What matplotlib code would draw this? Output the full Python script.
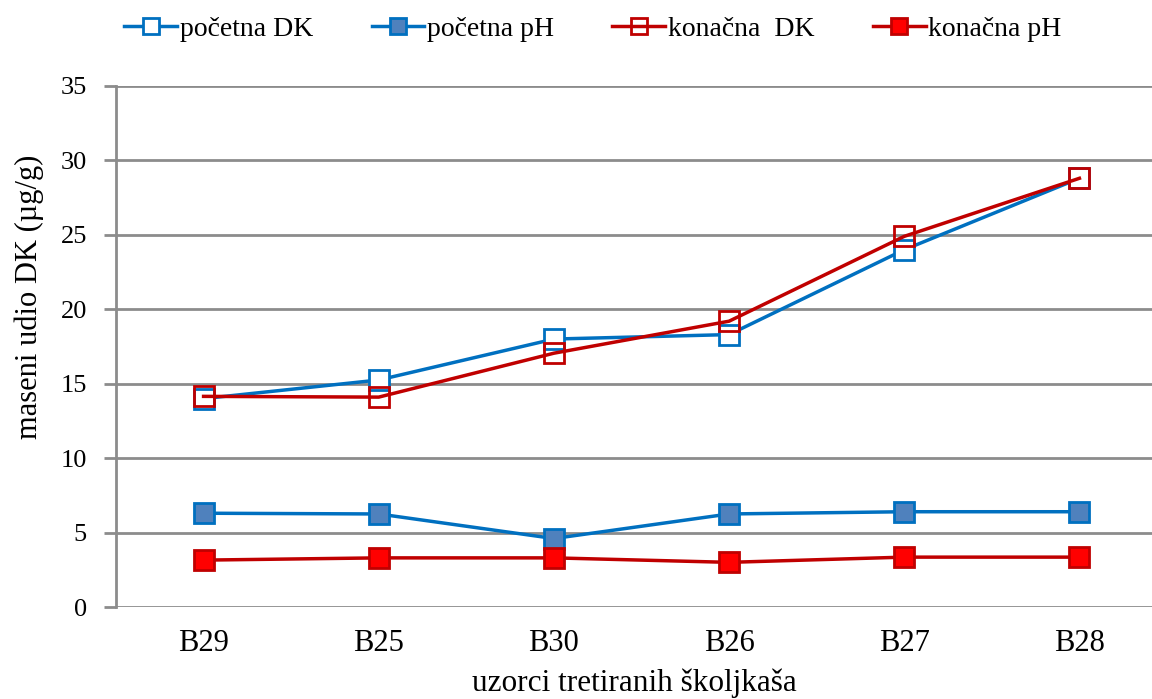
import matplotlib
matplotlib.use("Agg")
import matplotlib.pyplot as plt

# Data
samples = ["B29", "B25", "B30", "B26", "B27", "B28"]
pocetna_dk = [14.0, 15.25, 18.0, 18.3, 24.0, 28.8]
pocetna_ph = [6.3, 6.25, 4.6, 6.25, 6.4, 6.4]
konacna_dk = [14.15, 14.1, 17.05, 19.2, 24.9, 28.8]
konacna_ph = [3.15, 3.3, 3.3, 3.0, 3.35, 3.35]
y_ticks = [0, 5, 10, 15, 20, 25, 30, 35]

BLUE = "#0070C0"
BLUE_FILL = "#4F81BD"
RED = "#C00000"
RED_FILL = "#FF0000"
GRID = "#8c8c8c"

plt.rcParams["font.family"] = ["Liberation Serif", "DejaVu Serif"]

fig = plt.figure(figsize=(11.52, 6.99), dpi=100)
ax = fig.add_axes([116 / 1152, 1 - 607 / 699, 1051 / 1152, (607 - 86) / 699])

x = list(range(len(samples)))
ms, lw = 14, 2.5
ax.plot(x, pocetna_dk, color=BLUE, lw=lw, marker="s", ms=ms, mfc="white",
        mec=BLUE, mew=2, label="početna DK", zorder=3)
ax.plot(x, pocetna_ph, color=BLUE, lw=lw, marker="s", ms=ms, mfc=BLUE_FILL,
        mec=BLUE, mew=2, label="početna pH", zorder=3)
ax.plot(x, konacna_dk, color=RED, lw=lw, marker="s", ms=ms, mfc="none",
        mec=RED, mew=2, label="konačna  DK", zorder=4)
ax.plot(x, konacna_ph, color=RED, lw=lw, marker="s", ms=ms, mfc=RED_FILL,
        mec=RED, mew=2, label="konačna pH", zorder=4)

ax.set_xlim(-0.5, len(samples) - 0.5)
ax.set_ylim(0, 35)
ax.set_yticks(y_ticks)
ax.set_xticks(x)
ax.set_xticklabels(samples)
ax.yaxis.grid(True, color=GRID, lw=2)
ax.set_axisbelow(True)
for side in ("top", "right", "bottom"):
    ax.spines[side].set_visible(False)
ax.spines["left"].set_color(GRID)
ax.spines["left"].set_linewidth(2)
ax.tick_params(axis="y", length=9, width=2, color=GRID, labelsize=19, pad=12)
ax.tick_params(axis="x", length=0, labelsize=22, pad=16)

ax.set_ylabel("maseni udio DK (µg/g)", fontsize=22, labelpad=12, y=0.595)
ax.set_xlabel("uzorci tretiranih školjkaša", fontsize=22.5)
ax.xaxis.label.set_va("baseline")
ax.xaxis.set_label_coords(0.493, (607 - 691) / 521)

fig.legend(loc="center", bbox_to_anchor=(593 / 1152, 1 - 29 / 699), ncol=4,
           frameon=False, fontsize=20, handlelength=1.9, handletextpad=0.1,
           columnspacing=2.1, markerscale=0.8, borderpad=0)

fig.savefig("out.png", dpi=100, facecolor="white")
